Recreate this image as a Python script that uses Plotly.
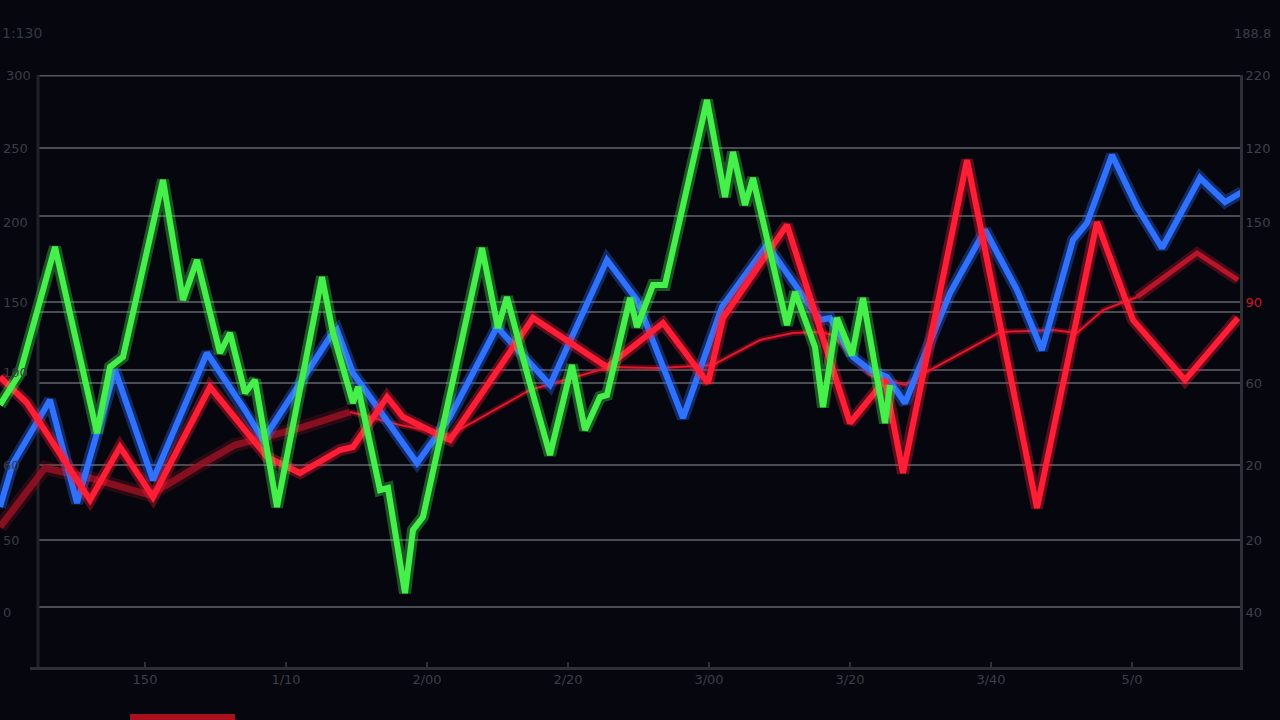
import plotly.graph_objects as go

# ---------------- data ----------------
green_x = [0, 2, 5.5, 9.7, 11, 12.3, 16.3, 18.3, 19.7, 22, 23, 24.5, 25.5, 27.7, 32.2, 33.3, 35.3, 35.8,
           38, 38.8, 40.5, 41.3, 42.3, 45, 48.2, 49.8, 50.7, 52.7, 55, 57.2, 58.5, 60, 60.7, 63, 63.7,
           65.3, 66.5, 70.7, 72.5, 73.3, 74.5, 75.3, 77, 78.7, 79.5, 81.5, 82.3, 83.7, 85.2, 86.3, 88.5, 89]
green_y = [53, 59.4, 84.6, 47.4, 60.6, 62.6, 98, 74, 82, 63.4, 67.4, 55.4, 58, 32.6, 78.6, 67.4, 53.4, 56.6,
           36, 36.4, 15.4, 28, 30.6, 55.4, 84.4, 68.4, 74.6, 59.4, 43, 61, 48, 54.6, 55, 74.4, 68.6,
           77, 77, 114, 94.6, 103.6, 93, 98.4, 84, 69, 75.6, 64.6, 52.6, 70.4, 63, 74.4, 49.4, 57]

blue_x = [0, 1.3, 5, 7.7, 11.5, 15.3, 20.7, 24.5, 26.3, 33, 33.7, 35.3, 41.7, 45, 49.7, 55, 60.7, 63.7,
          68.3, 72.2, 76.7, 82, 83, 85.3, 87, 88.7, 90.5, 95, 98.5, 101.7, 104.2, 107.3, 108.7, 111.2,
          113.7, 116.2, 120, 122.5, 124.2]
blue_y = [32.6, 41.4, 54, 33.4, 60, 38, 63.4, 52, 46, 66.6, 68, 59.4, 41.4, 50.6, 68.6, 57, 82, 74,
          50.4, 72.6, 85, 70, 70.4, 62.6, 60, 58.6, 53.4, 75.4, 88, 76, 64, 86, 89.4, 103,
          92.6, 84.4, 98.4, 93.6, 95.6]

red_x = [0, 2.7, 9, 12, 15.3, 21, 26.7, 30, 34, 35.3, 38.7, 40.3, 44.3, 45, 53.3, 60.7, 66.3, 70.8,
         72.3, 78.7, 85, 88.5, 90.3, 96.7, 103.7, 109.7, 113.3, 118.5, 123.8]
red_y = [58.6, 53.4, 34, 44.6, 34.6, 56.6, 42.6, 39.4, 44, 44.6, 54.6, 50.6, 46.6, 46, 70.4, 60.6, 69.4, 57.4,
         70.4, 89, 49.4, 58, 39.4, 102, 32.4, 89.6, 70, 58, 70.4]

trend_x = [0, 4.5, 9, 15, 20, 23.5, 30, 35, 40, 45, 53, 61, 66, 71.3, 76, 79.3, 82, 83.3, 87, 90.5, 93,
           100, 105.3, 107.7, 110.3, 113.7, 119.7, 123.8]
trend_y = [28.6, 40.4, 38.4, 35, 41, 45, 48.4, 51.6, 49, 47, 56, 60.6, 60.4, 61, 66, 67.4, 67.6, 67, 59,
           57, 60, 67.6, 68, 67.4, 72, 74.6, 83.4, 78]

x_tick_vals = [14.5, 28.6, 42.7, 56.8, 70.9, 85.0, 99.1, 113.2]
x_tick_text = ["150", "1/10", "2/00", "2/20", "3/00", "3/20", "3/40", "5/0"]

grid_vals = [119, 104.4, 90.8, 73.6, 71.6, 60, 57.4, 41, 26, 12.6]
left_top_label = "300"
left_tick_vals = [104.4, 89.6, 73.6, 59.6, 41, 26, 11.6]
left_tick_text = ["250", "200", "150", "100", "60", "50", "0"]
right_tick_vals = [119, 104.4, 89.6, 73.6, 57.4, 41, 26, 11.6]
right_tick_text = ["220", "120", "150", "<span style='color:#d0142c'>90</span>", "60", "20", "20", "40"]

# ---------------- figure ----------------
fig = go.Figure()


def glow_line(x, y, color, glow, width, glow_width):
    fig.add_trace(go.Scatter(x=x, y=y, mode="lines", hoverinfo="skip", showlegend=False,
                             line=dict(color=glow, width=glow_width)))
    fig.add_trace(go.Scatter(x=x, y=y, mode="lines", hoverinfo="skip", showlegend=False,
                             line=dict(color=color, width=width)))


# dark red trend: blurred left part, thin middle, thicker right
glow_line(trend_x[:8], trend_y[:8], "rgba(150,18,34,0.85)", "rgba(150,18,34,0.25)", 7, 14)
glow_line(trend_x[7:26], trend_y[7:26], "#e0182c", "rgba(230,20,40,0.3)", 2, 6)
glow_line(trend_x[25:], trend_y[25:], "#b8152a", "rgba(190,20,40,0.35)", 5, 11)

glow_line(blue_x, blue_y, "#2f72ff", "rgba(45,110,255,0.35)", 6, 12)
glow_line(red_x, red_y, "#ff1e36", "rgba(255,25,50,0.35)", 6, 12)
glow_line(green_x, green_y, "#45f04a", "rgba(70,240,80,0.35)", 6, 12)

# dummy trace on right axis so it is drawn
fig.add_trace(go.Scatter(x=[None], y=[None], yaxis="y2", showlegend=False, hoverinfo="skip"))

shapes = []
for i, g in enumerate(grid_vals):
    shapes.append(dict(type="line", xref="x", yref="y", x0=3.8, x1=124, y0=g, y1=g, layer="below",
                       line=dict(color="#55575f" if i == 0 else "#4a4c54", width=3 if i == 0 else 2)))
shapes.append(dict(type="line", xref="x", yref="y", x0=3.8, x1=3.8, y0=0, y1=119, layer="below",
                   line=dict(color="#20222a", width=3)))
shapes.append(dict(type="line", xref="x", yref="y", x0=3.0, x1=124, y0=0.3, y1=0.3, layer="below",
                   line=dict(color="#2e3038", width=3)))
shapes.append(dict(type="rect", xref="paper", yref="paper", x0=130 / 1240, x1=235 / 1240,
                   y0=-0.085, y1=-0.074, line=dict(width=0), fillcolor="#a8101e"))
fig.update_layout(shapes=shapes)

fig.update_layout(
    width=1280, height=720,
    margin=dict(l=0, r=40, t=75, b=50, pad=0),
    paper_bgcolor="#05060e", plot_bgcolor="#05060e",
    font=dict(family="DejaVu Sans", color="#3f434d", size=13),
    xaxis=dict(range=[0, 124], showgrid=False, zeroline=False, tickvals=x_tick_vals, ticktext=x_tick_text,
               ticks="inside", ticklen=8, tickcolor="#2e3038", tickwidth=2, showline=False,
               tickfont=dict(color="#3c3f49", size=13)),
    yaxis=dict(range=[0, 119], showgrid=False, zeroline=False, tickvals=left_tick_vals,
               ticktext=left_tick_text, ticklabelposition="inside", showline=False,
               tickfont=dict(color="#3a3d47", size=13)),
    yaxis2=dict(range=[0, 119], overlaying="y", side="right", showgrid=False, zeroline=False,
                tickvals=right_tick_vals, ticktext=right_tick_text, showline=True,
                linecolor="#2e3038", linewidth=3, tickfont=dict(color="#3e414b", size=13)),
    annotations=[
        dict(text="1:130", xref="paper", yref="paper", x=0.0, y=1.07, xanchor="left", yanchor="middle",
             showarrow=False, font=dict(color="#353944", size=14)),
        dict(text="188.8", xref="paper", yref="paper", x=1252 / 1240, y=1.07, xanchor="center",
             yanchor="middle", showarrow=False, font=dict(color="#3a3d47", size=13)),
        dict(text=left_top_label, xref="paper", yref="y", x=0.003, y=119, xanchor="left",
             yanchor="middle", showarrow=False, font=dict(color="#3a3d47", size=13)),
    ],
)

fig.write_html("out.html", config={"displayModeBar": False},
               post_script="document.body.style.margin='0';document.body.style.background='#05060e';")
